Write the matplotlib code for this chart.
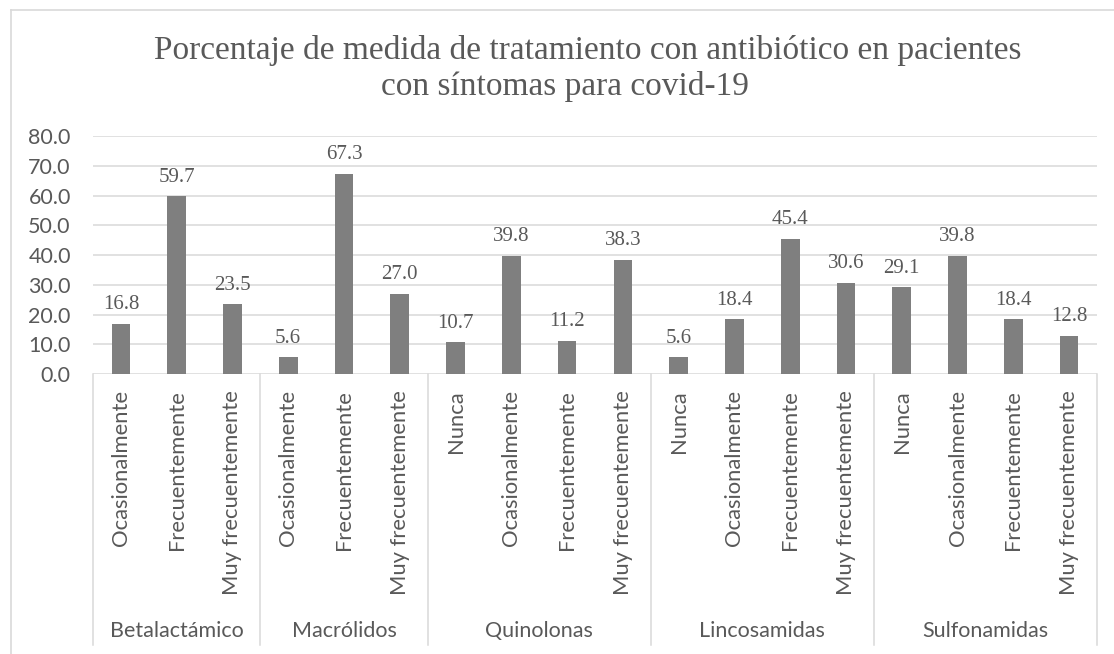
import matplotlib
matplotlib.use("Agg")
import matplotlib.pyplot as plt
from matplotlib.lines import Line2D
from matplotlib.transforms import blended_transform_factory

groups = ["Betalactámico", "Macrólidos", "Quinolonas", "Lincosamidas", "Sulfonamidas"]
group_cats = [
    ["Ocasionalmente", "Frecuentemente", "Muy frecuentemente"],
    ["Ocasionalmente", "Frecuentemente", "Muy frecuentemente"],
    ["Nunca", "Ocasionalmente", "Frecuentemente", "Muy frecuentemente"],
    ["Nunca", "Ocasionalmente", "Frecuentemente", "Muy frecuentemente"],
    ["Nunca", "Ocasionalmente", "Frecuentemente", "Muy frecuentemente"],
]
group_vals = [
    [16.8, 59.7, 23.5],
    [5.6, 67.3, 27.0],
    [10.7, 39.8, 11.2, 38.3],
    [5.6, 18.4, 45.4, 30.6],
    [29.1, 39.8, 18.4, 12.8],
]
yticks = [0, 10, 20, 30, 40, 50, 60, 70, 80]
title_lines = ["Porcentaje de medida de tratamiento con antibiótico en pacientes",
               "con síntomas para covid-19"]

W, H = 1114, 654
fig = plt.figure(figsize=(W / 100, H / 100), dpi=100)
fig.patch.set_facecolor("white")

def fx(px):
    return px / W

def fy(py):
    return 1 - py / H

ax = fig.add_axes([fx(93), fy(374), fx(1097) - fx(93), fy(136) - fy(374)])

labels, values = [], []
for cats, vals in zip(group_cats, group_vals):
    labels += cats
    values += vals
n = len(values)
xs = list(range(n))

grey = "#7F7F7F"
txt = "#595959"
grid = "#D9D9D9"
sans = ["Lato", "DejaVu Sans"]
serif = ["Liberation Serif", "DejaVu Serif"]

ax.set_xlim(-0.5, n - 0.5)
ax.set_ylim(0, 80)
ax.set_yticks(yticks)
ax.set_yticklabels([f"{v:.1f}" for v in yticks], fontfamily=sans, fontsize=15.5, color=txt)
ax.tick_params(axis="y", length=0, pad=16)
ax.set_xticks([])
for s in ax.spines.values():
    s.set_visible(False)
ax.grid(axis="y", color=grid, linewidth=1.1)
ax.set_axisbelow(True)

bars = ax.bar(xs, values, width=1 / 3, color=grey, zorder=3)
for x, v in zip(xs, values):
    ax.annotate(f"{v:.1f}", (x, v), xytext=(0, 10.5), textcoords="offset points",
                ha="center", va="baseline", fontfamily=serif, fontsize=15, color=txt)

# category labels
trans = blended_transform_factory(ax.transData, fig.transFigure)
for x, lab in zip(xs, labels):
    ax.text(x, fy(390), lab, transform=trans, rotation=90, ha="center", va="top",
            fontfamily=sans, fontsize=15.8, color=txt)

# group separators and labels
start = 0
bounds = [-0.5]
for g, cats in zip(groups, group_cats):
    end = start + len(cats)
    ax.text((start + end - 1) / 2, fy(631), g, transform=trans, ha="center", va="center",
            fontfamily=sans, fontsize=15.5, color=txt)
    bounds.append(end - 0.5)
    start = end
for b in bounds:
    ax.add_line(Line2D([b, b], [fy(374), fy(645)], transform=trans, color=grid,
                       linewidth=1.1, clip_on=False))

# title
fig.text(fx(588), fy(50), title_lines[0], ha="center", va="center",
         fontfamily=serif, fontsize=24, color=txt)
fig.text(fx(565), fy(87), title_lines[1], ha="center", va="center",
         fontfamily=serif, fontsize=24, color=txt)

# chart border
fig.add_artist(Line2D([fx(11), fx(11)], [fy(10), fy(654)], transform=fig.transFigure,
                      color=grid, linewidth=1.2))
fig.add_artist(Line2D([fx(11), fx(1114)], [fy(10), fy(10)], transform=fig.transFigure,
                      color=grid, linewidth=1.2))

fig.savefig("out.png", dpi=100, facecolor="white")
